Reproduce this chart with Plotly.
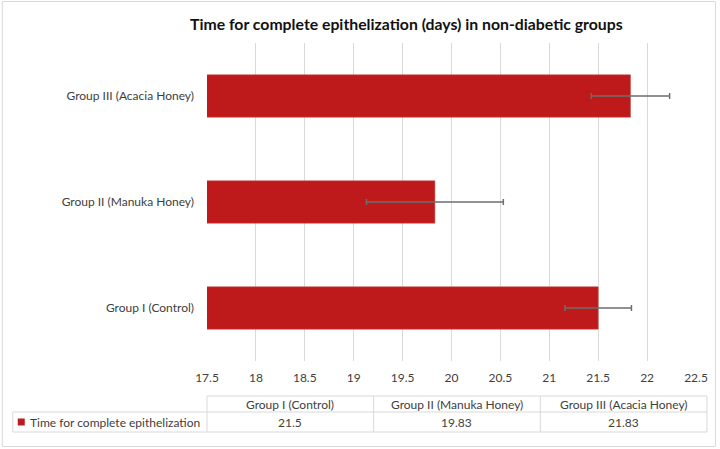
import plotly.graph_objects as go

categories = ["Group I (Control)", "Group II (Manuka Honey)", "Group III (Acacia Honey)"]
values = [21.5, 19.83, 21.83]
errors = [0.34, 0.7, 0.4]
series_name = "Time for complete epithelization"
title = "Time for complete epithelization (days) in non-diabetic groups"
x_min, x_max, x_step = 17.5, 22.5, 0.5

W, H = 720, 449
L, R, T, B = 207, 698, 43, 361  # plot area in pixels
FONT = "Lato"
TXT = "#404040"
LINE = "#D9D9D9"
RED = "#BF1A1B"


def px(x):
    return (x - L) / (R - L)


def py(y):
    return (B - y) / (B - T)


fig = go.Figure()
fig.add_trace(go.Bar(
    y=categories, x=values, orientation="h", name=series_name,
    marker=dict(color=RED, line=dict(color="#C94040", width=0.5)),
    error_x=dict(type="data", array=errors, visible=True, color="#6E6E6E", thickness=1.5, width=3),
    showlegend=False,
))

shapes = []
annotations = []

# table geometry (pixels)
tx0, tx1 = 207, 709
ty0, ty1, ty2 = 396, 412, 432
lx0 = 12
ncol = len(categories)
colw = (tx1 - tx0) / ncol


def hline(x0, x1, y):
    shapes.append(dict(type="line", xref="paper", yref="paper", x0=px(x0), x1=px(x1), y0=py(y), y1=py(y),
                       line=dict(color=LINE, width=1)))


def vline(x, y0, y1):
    shapes.append(dict(type="line", xref="paper", yref="paper", x0=px(x), x1=px(x), y0=py(y0), y1=py(y1),
                       line=dict(color=LINE, width=1)))


hline(tx0, tx1, ty0)
hline(lx0, tx1, ty1)
hline(lx0, tx1, ty2)
vline(lx0, ty1, ty2)
for i in range(ncol + 1):
    vline(tx0 + i * colw, ty0, ty2)

for i, (c, v) in enumerate(zip(categories, values)):
    cx = tx0 + (i + 0.5) * colw
    annotations.append(dict(xref="paper", yref="paper", x=px(cx), y=py((ty0 + ty1) / 2), text=c,
                            showarrow=False, xanchor="center", yanchor="middle",
                            font=dict(family=FONT, size=12, color=TXT)))
    annotations.append(dict(xref="paper", yref="paper", x=px(cx), y=py((ty1 + ty2) / 2), text=f"{v:g}",
                            showarrow=False, xanchor="center", yanchor="middle",
                            font=dict(family=FONT, size=12, color=TXT)))

# legend key in table
shapes.append(dict(type="rect", xref="paper", yref="paper", x0=px(17), x1=px(24), y0=py(418.5), y1=py(425.5),
                   fillcolor=RED, line=dict(width=0)))
annotations.append(dict(xref="paper", yref="paper", x=px(27), y=py((ty1 + ty2) / 2), text=series_name,
                        showarrow=False, xanchor="left", yanchor="middle",
                        font=dict(family=FONT, size=12, color=TXT)))

# title
annotations.append(dict(xref="paper", yref="paper", x=px(407), y=py(23), text="<b>" + title + "</b>",
                        showarrow=False, xanchor="center", yanchor="middle",
                        font=dict(family=FONT, size=15.8, color="#111111")))

# outer border
shapes.append(dict(type="rect", xref="paper", yref="paper", x0=px(1.5), x1=px(717.5), y0=py(1.5), y1=py(446.5),
                   line=dict(color=LINE, width=1), fillcolor="rgba(0,0,0,0)", layer="below"))

fig.update_layout(
    width=W, height=H,
    margin=dict(l=L, r=W - R, t=T, b=H - B),
    paper_bgcolor="white", plot_bgcolor="white",
    bargap=0.6,
    font=dict(family=FONT, size=12, color=TXT),
    xaxis=dict(range=[x_min, x_max], dtick=x_step, tick0=x_min, showgrid=True, gridcolor=LINE, gridwidth=1,
               zeroline=False, showline=False, ticks="", ticklabelstandoff=8,
               tickfont=dict(family=FONT, size=12, color=TXT), fixedrange=True),
    yaxis=dict(showgrid=False, zeroline=False, showline=False, ticks="", ticklabelstandoff=12,
               tickfont=dict(family=FONT, size=12, color=TXT)),
    shapes=shapes, annotations=annotations,
)

fig.write_html("out.html", config={"displayModeBar": False},
               post_script="document.body.style.margin='0';document.body.style.padding='0';")
